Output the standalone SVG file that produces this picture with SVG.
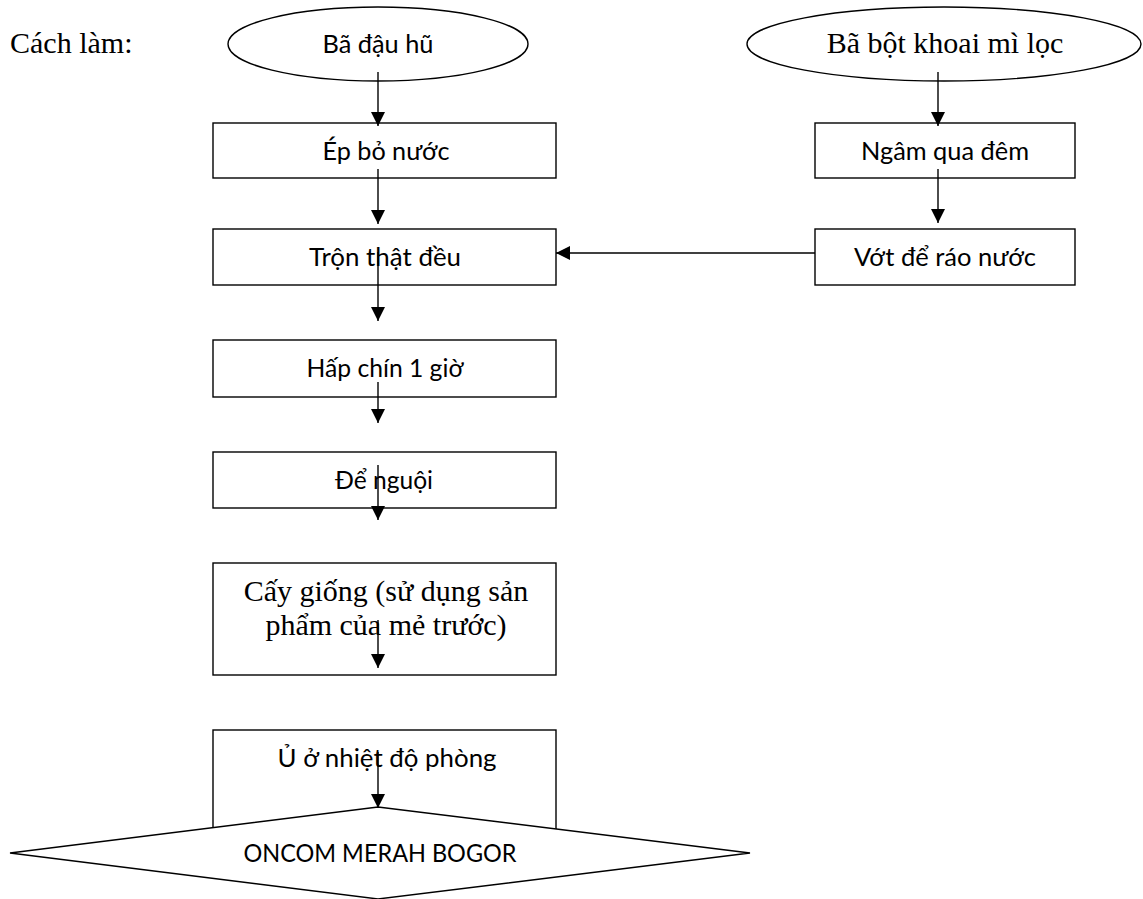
<svg xmlns="http://www.w3.org/2000/svg" width="1143" height="899" viewBox="0 0 1143 899">
  <defs>
    <marker id="arrow" viewBox="0 0 14 14" refX="14" refY="7" markerWidth="14" markerHeight="14" markerUnits="userSpaceOnUse" orient="auto">
      <path d="M0,0 L14,7 L0,14 Z" fill="#000"/>
    </marker>
    <style>
      .shape { fill: #fff; stroke: #000; stroke-width: 1.4; }
      .sans { font-family: "Lato", "Noto Sans", "Liberation Sans", sans-serif; font-size: 25px; fill: #000; text-anchor: middle; }
      .serif { font-family: "Liberation Serif", "DejaVu Serif", serif; font-size: 30px; fill: #000; }
      .mid { text-anchor: middle; }
      .link { fill: none; stroke: #000; stroke-width: 1.4; marker-end: url(#arrow); }
    </style>
  </defs>
  <rect width="1143" height="899" fill="#fff"/>

  <text class="serif" x="10" y="53">Cách làm:</text>

  <!-- left branch -->
  <g id="n-ba-dau-hu">
    <ellipse class="shape" cx="378" cy="44" rx="150" ry="37"/>
    <text class="sans" x="378" y="53" textLength="111" lengthAdjust="spacingAndGlyphs">Bã đậu hũ</text>
  </g>
  <g id="n-ep-bo-nuoc">
    <rect class="shape" x="213" y="123" width="343" height="55"/>
    <text class="sans" x="386" y="160" textLength="127" lengthAdjust="spacingAndGlyphs">Ép bỏ nước</text>
  </g>
  <g id="n-tron">
    <rect class="shape" x="213" y="229" width="343" height="56"/>
    <text class="sans" x="385" y="266" textLength="152" lengthAdjust="spacingAndGlyphs">Trộn thật đều</text>
  </g>
  <g id="n-hap">
    <rect class="shape" x="213" y="340" width="343" height="57"/>
    <text class="sans" x="385" y="377" textLength="157" lengthAdjust="spacingAndGlyphs">Hấp chín 1 giờ</text>
  </g>
  <g id="n-de-nguoi">
    <rect class="shape" x="213" y="452" width="343" height="56"/>
    <text class="sans" x="384" y="489" textLength="98" lengthAdjust="spacingAndGlyphs">Để nguội</text>
  </g>
  <g id="n-cay-giong">
    <rect class="shape" x="213" y="563" width="343" height="112"/>
    <text class="serif mid" x="386" y="601">Cấy giống (sử dụng sản</text>
    <text class="serif mid" x="386" y="635">phẩm của mẻ trước)</text>
  </g>
  <g id="n-u">
    <rect class="shape" x="213" y="730" width="343" height="110"/>
    <text class="sans" x="387" y="767" textLength="219" lengthAdjust="spacingAndGlyphs">Ủ ở nhiệt độ phòng</text>
  </g>

  <!-- right branch -->
  <g id="n-ba-bot-khoai-mi">
    <ellipse class="shape" cx="944" cy="44" rx="197" ry="37"/>
    <text class="serif mid" x="945" y="53">Bã bột khoai mì lọc</text>
  </g>
  <g id="n-ngam">
    <rect class="shape" x="815" y="123" width="260" height="55"/>
    <text class="sans" x="945" y="160" textLength="168" lengthAdjust="spacingAndGlyphs">Ngâm qua đêm</text>
  </g>
  <g id="n-vot">
    <rect class="shape" x="815" y="229" width="260" height="56"/>
    <text class="sans" x="945" y="266" textLength="182" lengthAdjust="spacingAndGlyphs">Vớt để ráo nước</text>
  </g>

  <!-- connectors -->
  <g id="connectors">
    <line class="link" x1="378" y1="72" x2="378" y2="126"/>
    <line class="link" x1="378" y1="169" x2="378" y2="224"/>
    <line class="link" x1="378" y1="252" x2="378" y2="321"/>
    <line class="link" x1="378" y1="382" x2="378" y2="423"/>
    <line class="link" x1="378" y1="465" x2="378" y2="520"/>
    <line class="link" x1="378" y1="620" x2="378" y2="668"/>
    <line class="link" x1="938" y1="72" x2="938" y2="126"/>
    <line class="link" x1="938" y1="169" x2="938" y2="223"/>
    <line class="link" x1="815" y1="253" x2="556" y2="253"/>
  </g>

  <!-- end product -->
  <g id="n-oncom">
    <polygon class="shape" points="10,853 378,807 750,853 378,899"/>
    <text class="sans" x="380" y="862" textLength="273" lengthAdjust="spacingAndGlyphs">ONCOM MERAH BOGOR</text>
  </g>
  <g id="connectors-end">
    <line class="link" x1="378" y1="752" x2="378" y2="808"/>
  </g>
</svg>
